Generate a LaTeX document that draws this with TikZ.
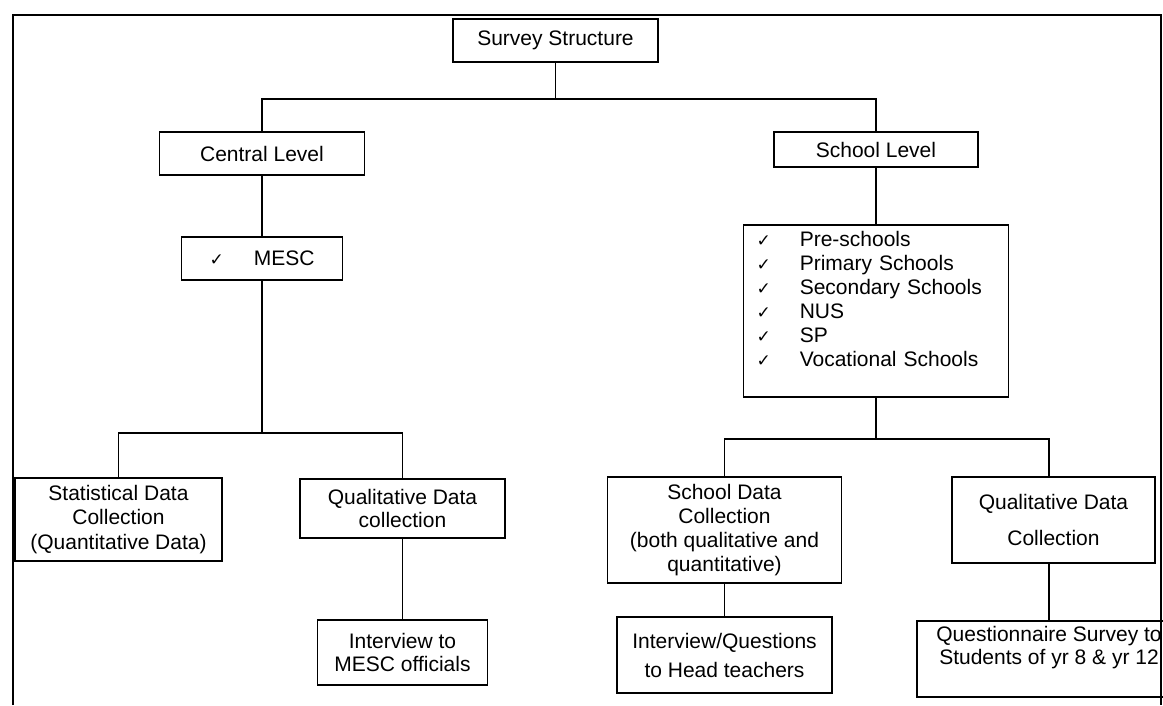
\documentclass[tikz,border=0pt]{standalone}
\usepackage{fontspec}
\setmainfont{Liberation Sans}
\newfontfamily\ticksym{DejaVu Sans}
\newcommand{\chk}{{\ticksym\fontsize{17}{17}\selectfont ✓}}

\begin{document}
\begin{tikzpicture}[x=1pt,y=1pt,yscale=-1,xscale=1,
  box/.style={draw,line width=1.8pt,inner sep=0pt,align=center,font=\fontsize{21}{24}\selectfont},
  link/.style={line width=1.5pt}]
\useasboundingbox (0,0) rectangle (1163,705);
\clip (0,0) rectangle (1163,705);

%Shape: Frame
\draw [line width=1.8pt] (13,705) -- (13,15) -- (1161,15) -- (1161,705) ;

% Text Node
\node [box,minimum width=205,minimum height=43] (survey) at (555.5,40.5) {Survey Structure};
% Text Node
\node [box,minimum width=205,minimum height=43] (central) at (262,153.5) {Central Level};
% Text Node
\node [box,minimum width=161,minimum height=43] (mesc) at (262,258.5) {\chk\hspace{30pt}MESC};
% Text Node
\node [box,minimum width=204,minimum height=35] (school) at (876,149.5) {School Level};
% Text Node
\node [box,align=left,text width=239,inner xsep=13pt,inner ysep=5pt] (list) at (876,311)
  {\begin{tabular}{@{}l@{\hspace{29pt}}l@{}}
   \chk & Pre-schools\\
   \chk & Primary Schools\\
   \chk & Secondary Schools\\
   \chk & NUS\\
   \chk & SP\\
   \chk & Vocational Schools\\[18pt]
   \end{tabular}};

% Text Node
\node [box,minimum width=207,minimum height=83,font=\fontsize{21}{24.5}\selectfont] (stat) at (118.5,519.5) {Statistical Data\\Collection\\(Quantitative Data)};
% Text Node
\node [box,minimum width=205,minimum height=59,font=\fontsize{21}{23}\selectfont] (qualc) at (402.5,508.5) {Qualitative Data\\collection};
% Text Node
\node [box,minimum width=170,minimum height=65,font=\fontsize{21}{23}\selectfont] (imesc) at (402.5,652.5) {Interview to\\MESC officials};
% Text Node
\node [box,minimum width=234,minimum height=106] (sdc) at (724.5,530) {School Data\\Collection\\(both qualitative and\\quantitative)};
% Text Node
\node [box,minimum width=203,minimum height=86,font=\fontsize{21}{36}\selectfont] (qualr) at (1053.5,520) {Qualitative Data\\Collection};
% Text Node
\node [box,minimum width=215,minimum height=76,font=\fontsize{21}{29}\selectfont] (iqh) at (724.5,655) {Interview/Questions\\to Head teachers};
% Text Node
\node [box,minimum width=264,inner ysep=4pt,font=\fontsize{21}{23}\selectfont] (quest) at (1049,659)
  {\begin{tabular}{@{}c@{}}
   Questionnaire Survey to\\
   Students of yr 8 \& yr 12\\[22pt]
   \end{tabular}};

%Straight Lines
\coordinate (topbus) at (555.5,99);
\draw [link] (survey.south) -- (topbus) -| (central.north) ;
\draw [link] (topbus) -| (school.north) ;
\draw [link] (central) -- (mesc) ;
\coordinate (cbus) at (262,433);
\draw [link] (mesc.south) -- (cbus) -| (stat.north) ;
\draw [link] (cbus) -| (qualc.north) ;
\draw [link] (qualc) -- (imesc) ;
\draw [link] (school) -- (list) ;
\coordinate (sbus) at (876,439);
\draw [link] (list.south) -- (sbus) -| (sdc.north) ;
\draw [link] (sbus) -| (quest.north |- qualr.north) ;
\draw [link] (sdc) -- (iqh) ;
\draw [link] (qualr.south -| quest.north) -- (quest.north) ;

\end{tikzpicture}
\end{document}
